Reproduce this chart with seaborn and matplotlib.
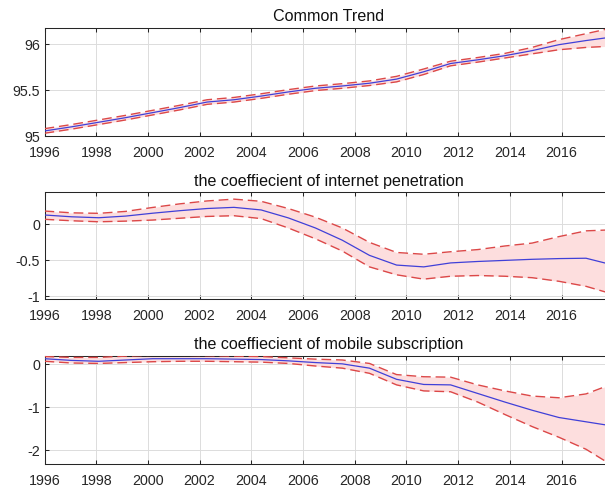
import matplotlib
matplotlib.use("Agg")
import matplotlib.pyplot as plt
import seaborn as sns
import pandas as pd

# Sample dates (22 evenly spaced estimation points, 1996-2018)
dates = [1996.00, 1997.05, 1998.10, 1999.14, 2000.19, 2001.24, 2002.29, 2003.33,
         2004.38, 2005.43, 2006.48, 2007.52, 2008.57, 2009.62, 2010.67, 2011.71,
         2012.76, 2013.81, 2014.86, 2015.90, 2016.95, 2018.00]

# Common trend: estimate with upper / lower bands
trend_mid = [95.055, 95.10, 95.15, 95.20, 95.255, 95.31, 95.37, 95.395,
             95.435, 95.48, 95.52, 95.545, 95.575, 95.62, 95.70, 95.79,
             95.83, 95.875, 95.93, 95.995, 96.04, 96.08]
trend_hi = [95.08, 95.125, 95.175, 95.225, 95.28, 95.335, 95.395, 95.42,
            95.46, 95.505, 95.545, 95.57, 95.60, 95.65, 95.73, 95.815,
            95.855, 95.90, 95.965, 96.05, 96.115, 96.18]
trend_lo = [95.03, 95.075, 95.125, 95.175, 95.23, 95.285, 95.345, 95.37,
            95.41, 95.455, 95.495, 95.52, 95.55, 95.59, 95.67, 95.765,
            95.805, 95.85, 95.895, 95.94, 95.965, 95.98]

# Coefficient of internet penetration
inet_mid = [0.13, 0.105, 0.092, 0.115, 0.155, 0.19, 0.22, 0.236,
            0.20, 0.09, -0.05, -0.22, -0.43, -0.565, -0.59, -0.535,
            -0.515, -0.50, -0.485, -0.475, -0.47, -0.565]
inet_hi = [0.185, 0.16, 0.153, 0.18, 0.235, 0.285, 0.325, 0.35,
           0.32, 0.22, 0.10, -0.05, -0.25, -0.39, -0.415, -0.38,
           -0.35, -0.30, -0.26, -0.17, -0.09, -0.075]
inet_lo = [0.07, 0.05, 0.036, 0.045, 0.06, 0.085, 0.11, 0.12,
           0.08, -0.05, -0.20, -0.37, -0.59, -0.70, -0.76, -0.72,
           -0.71, -0.72, -0.74, -0.79, -0.86, -0.97]

# Coefficient of mobile subscription
mob_mid = [0.13, 0.09, 0.07, 0.10, 0.13, 0.13, 0.13, 0.12,
           0.11, 0.08, 0.04, 0.01, -0.09, -0.35, -0.47, -0.48,
           -0.68, -0.88, -1.07, -1.24, -1.34, -1.44]
mob_hi = [0.18, 0.16, 0.16, 0.19, 0.21, 0.21, 0.20, 0.19,
          0.18, 0.15, 0.12, 0.10, 0.02, -0.24, -0.29, -0.30,
          -0.48, -0.62, -0.74, -0.78, -0.69, -0.45]
mob_lo = [0.07, 0.03, 0.02, 0.04, 0.06, 0.07, 0.07, 0.06,
          0.05, 0.02, -0.04, -0.09, -0.21, -0.48, -0.62, -0.64,
          -0.88, -1.17, -1.45, -1.70, -1.98, -2.37]

titles = ["Common Trend",
          "the coeffiecient of internet penetration",
          "the coeffiecient of mobile subscription"]
x_ticks = [1996, 1998, 2000, 2002, 2004, 2006, 2008, 2010, 2012, 2014, 2016]
y_ticks = [[95, 95.5, 96], [-1, -0.5, 0], [-2, -1, 0]]
y_labels = [["95", "95.5", "96"], ["-1", "-0.5", "0"], ["-2", "-1", "0"]]
y_limits = [(95.0, 96.18), (-1.04, 0.445), (-2.33, 0.193)]

sns.set_theme(style="white")
plt.rcParams["font.family"] = ["Liberation Sans", "DejaVu Sans"]
plt.rcParams["axes.unicode_minus"] = False

INK = "#262626"
BAND_FILL = "#fddede"
BAND_LINE = "#dc4848"
MID_LINE = "#4040d8"

fig = plt.figure(figsize=(6.05, 4.9), dpi=100)
left = 44.5 / 605
width = (613.2 - 44.5) / 605
boxes = [(27.7, 136.0), (192.3, 299.3), (356.0, 464.3)]

series = [(trend_mid, trend_hi, trend_lo),
          (inet_mid, inet_hi, inet_lo),
          (mob_mid, mob_hi, mob_lo)]

for i, ((mid, hi, lo), (top_px, bot_px)) in enumerate(zip(series, boxes)):
    ax = fig.add_axes([left, 1 - bot_px / 490, width, (bot_px - top_px) / 490])
    df = pd.DataFrame({"date": dates, "mid": mid, "hi": hi, "lo": lo})

    ax.fill_between(df["date"], df["lo"], df["hi"], color=BAND_FILL, lw=0, zorder=1)
    for col in ("hi", "lo"):
        sns.lineplot(data=df, x="date", y=col, ax=ax, color=BAND_LINE, lw=1.0,
                     linestyle=(0, (7, 3.5)), zorder=3, estimator=None)
    sns.lineplot(data=df, x="date", y="mid", ax=ax, color=MID_LINE, lw=0.9,
                 zorder=4, estimator=None)

    ax.set_xlim(1996, 2018)
    ax.set_ylim(*y_limits[i])
    ax.set_xticks(x_ticks)
    ax.set_xticklabels([str(t) for t in x_ticks])
    ax.set_yticks(y_ticks[i])
    ax.set_yticklabels(y_labels[i])
    ax.set_xlabel("")
    ax.set_ylabel("")

    ax.grid(True, color="#dcdcdc", lw=0.7, zorder=0)
    ax.set_axisbelow(True)
    for side, sp in ax.spines.items():
        sp.set_color(INK)
        sp.set_linewidth(0.75)
    ax.tick_params(axis="x", direction="in", length=3.2, width=0.75, color=INK,
                   labelcolor=INK, labelsize=10.3, pad=7, top=True, bottom=True)
    ax.tick_params(axis="y", direction="in", length=3.2, width=0.75, color=INK,
                   labelcolor=INK, labelsize=10.3, pad=3.2, left=True, right=True)
    ax.set_title(titles[i], fontsize=11.6, color="#111111", pad=4.8)

fig.savefig("out.png", dpi=100)
